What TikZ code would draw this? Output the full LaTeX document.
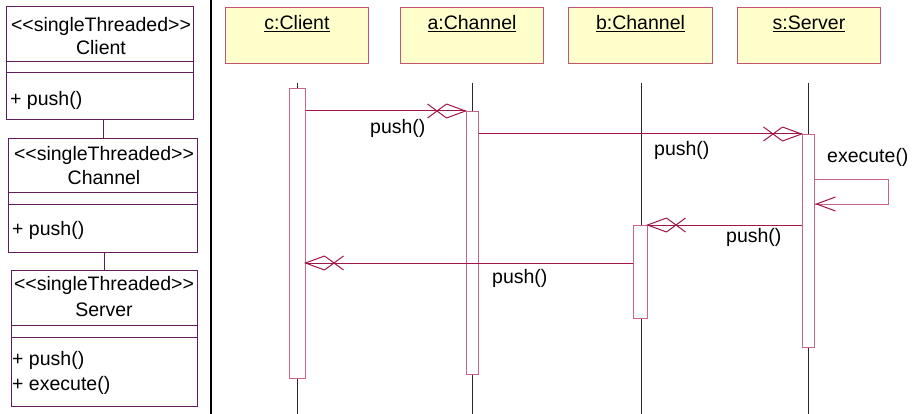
\documentclass[tikz,border=0pt]{standalone}
\usepackage{fontspec}
\setmainfont{Liberation Sans}
\definecolor{msgcol}{RGB}{160,20,70}
\definecolor{barcol}{RGB}{200,100,140}
\definecolor{hdrborder}{RGB}{195,85,115}
\definecolor{hdrfill}{RGB}{255,255,204}
\definecolor{classcol}{RGB}{95,30,90}
\definecolor{lifecol}{RGB}{40,40,40}
\begin{document}
\begin{tikzpicture}[x=1pt,y=-1pt,
  font=\fontsize{19.5}{23}\selectfont,
  classbox/.style={draw=classcol, line width=1pt, fill=white, inner sep=0pt, anchor=north west},
  classline/.style={draw=classcol, line width=1pt},
  hdr/.style={draw=hdrborder, line width=1pt, fill=hdrfill, inner sep=0pt, anchor=north west, minimum height=56pt},
  bar/.style={draw=barcol, line width=1pt, fill=white, inner sep=0pt, anchor=north},
  life/.style={draw=lifecol, line width=1pt},
  msg/.style={draw=msgcol, line width=1pt},
  loopline/.style={draw=barcol, line width=1pt},
  lbl/.style={inner sep=0pt, anchor=west, text=black},
  xhead/.pic={\draw[msg] (-19,-7) -- (0,0) -- (-19,7);
              \draw[msg] (-38,-7) -- (-19,7) (-38,7) -- (-19,-7);},
  ohead/.pic={\draw[msg] (-19,-7) -- (0,0) -- (-19,7);}
]
\useasboundingbox (0,0) rectangle (912,414);

% separator
\coordinate (sepT) at (211,0);
\coordinate (sepB) at (211,414);
\draw[line width=1.3pt, black] (sepT) -- (sepB);

% class boxes
\node[classbox, minimum width=187pt, minimum height=113pt] (cl) at (6,6) {};
\node[classbox, minimum width=189pt, minimum height=114pt] (ch) at (8,138) {};
\node[classbox, minimum width=186pt, minimum height=136pt] (sv) at (11,270) {};
\draw[classline] (ch.north) -- (ch.north |- cl.south);
\draw[classline] (sv.north) -- (sv.north |- ch.south);
\draw[classline] (cl.west |- 0,62) -- (cl.east |- 0,62) (cl.west |- 0,73) -- (cl.east |- 0,73);
\draw[classline] (ch.west |- 0,192) -- (ch.east |- 0,192) (ch.west |- 0,204) -- (ch.east |- 0,204);
\draw[classline] (sv.west |- 0,325) -- (sv.east |- 0,325) (sv.west |- 0,337) -- (sv.east |- 0,337);

\node[inner sep=0pt] (clst) at (101,26) {<{}<singleThreaded>{}>};
\node[inner sep=0pt] (clnm) at (101,48) {Client};
\node[lbl] (clop) at (10,100) {+ push()};
\node[inner sep=0pt] (chst) at (104,155) {<{}<singleThreaded>{}>};
\node[inner sep=0pt] (chnm) at (104,178) {Channel};
\node[lbl] (chop) at (12,230) {+ push()};
\node[inner sep=0pt] (svst) at (104,285) {<{}<singleThreaded>{}>};
\node[inner sep=0pt] (svnm) at (104,310) {Server};
\node[lbl] (svop1) at (12,360) {+ push()};
\node[lbl] (svop2) at (12,385) {+ execute()};

% headers
\node[hdr, minimum width=143pt] (hc) at (225,7) {};
\node[hdr, minimum width=143pt] (ha) at (400,7) {};
\node[hdr, minimum width=144pt] (hb) at (568,7) {};
\node[hdr, minimum width=143pt] (hs) at (737,7) {};
\node[inner sep=0pt] (hct) at ([yshift=-17pt]hc.north) {\underline{c:Client}};
\node[inner sep=0pt] (hat) at ([yshift=-17pt]ha.north) {\underline{a:Channel}};
\node[inner sep=0pt] (hbt) at ([yshift=-17pt]hb.north) {\underline{b:Channel}};
\node[inner sep=0pt] (hst) at ([yshift=-17pt]hs.north) {\underline{s:Server}};

% lifelines
\coordinate (lcT) at (297,83); \coordinate (lcB) at (297,414);
\coordinate (laT) at (472,83); \coordinate (laB) at (472,414);
\coordinate (lbT) at (641,83); \coordinate (lbB) at (641,414);
\coordinate (lsT) at (808,83); \coordinate (lsB) at (808,414);
\draw[life] (lcT) -- (lcB);
\draw[life] (laT) -- (laB);
\draw[life] (lbT) -- (lbB);
\draw[life] (lsT) -- (lsB);

% activation bars
\node[bar, minimum width=16pt, minimum height=290pt] (cb) at (297,88) {};
\node[bar, minimum width=12pt, minimum height=263pt] (ab) at (472,111) {};
\node[bar, minimum width=14pt, minimum height=93pt] (bb) at (640,225) {};
\node[bar, minimum width=12pt, minimum height=213pt] (sb) at (808,134) {};

% messages
\draw[msg] (cb.east |- 0,111) -- (ab.west |- 0,111) pic{xhead};
\draw[msg] (ab.east |- 0,134) -- (sb.west |- 0,134) pic{xhead};
\coordinate (lp1) at (888,180);
\coordinate (lp2) at (888,204);
\draw[loopline] (sb.east |- lp1) -- (lp1) -- (lp2) -- (sb.east |- lp2);
\path (sb.east |- lp2) ++(2,0) pic[rotate=180]{ohead};
\draw[msg] (sb.west |- 0,225) -- (bb.east |- 0,225) pic[rotate=180]{xhead};
\draw[msg] (bb.west |- 0,263) -- (cb.east |- 0,263) pic[rotate=180]{xhead};

% labels
\node[lbl] (l1) at (370,128) {push()};
\node[lbl] (l2) at (654,150) {push()};
\node[lbl] (l3) at (827,157) {execute()};
\node[lbl] (l4) at (726,237) {push()};
\node[lbl] (l5) at (492,278) {push()};
\end{tikzpicture}
\end{document}
